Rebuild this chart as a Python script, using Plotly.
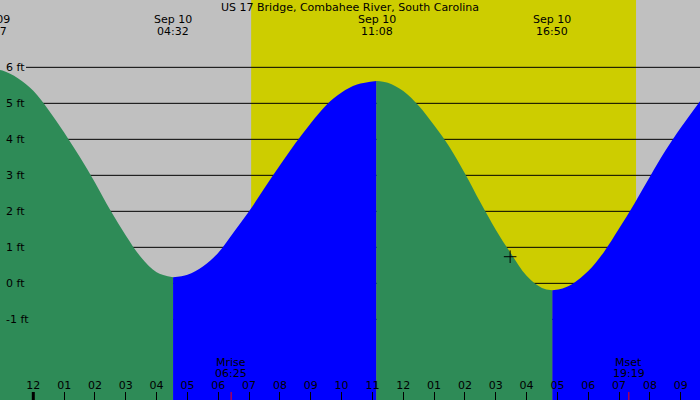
import pandas as pd
import plotly.graph_objects as go

station = "US 17 Bridge, Combahee River, South Carolina"

# tide level (ft), roughly every half hour plus the highs/lows
tide_times = [
    "2024-09-09 22:37", "2024-09-09 23:00", "2024-09-09 23:30",
    "2024-09-10 00:00", "2024-09-10 00:30", "2024-09-10 01:00", "2024-09-10 01:30",
    "2024-09-10 02:00", "2024-09-10 02:30", "2024-09-10 03:00", "2024-09-10 03:30",
    "2024-09-10 04:00", "2024-09-10 04:32", "2024-09-10 05:00", "2024-09-10 05:30",
    "2024-09-10 06:00", "2024-09-10 06:30", "2024-09-10 07:00", "2024-09-10 07:30",
    "2024-09-10 08:00", "2024-09-10 08:30", "2024-09-10 09:00", "2024-09-10 09:30",
    "2024-09-10 10:00", "2024-09-10 10:30", "2024-09-10 11:08", "2024-09-10 11:30",
    "2024-09-10 12:00", "2024-09-10 12:30", "2024-09-10 13:00", "2024-09-10 13:30",
    "2024-09-10 14:00", "2024-09-10 14:30", "2024-09-10 15:00", "2024-09-10 15:30",
    "2024-09-10 16:00", "2024-09-10 16:30", "2024-09-10 16:50", "2024-09-10 17:10",
    "2024-09-10 17:30", "2024-09-10 18:00", "2024-09-10 18:30", "2024-09-10 19:00",
    "2024-09-10 19:30", "2024-09-10 20:00", "2024-09-10 20:30", "2024-09-10 21:00",
    "2024-09-10 21:38",
]
tide_levels = [
    5.96, 5.91, 5.70,
    5.35, 4.81, 4.19, 3.52,
    2.80, 2.03, 1.33, 0.72,
    0.31, 0.17, 0.24, 0.47,
    0.85, 1.42, 2.00, 2.65,
    3.28, 3.89, 4.45, 4.95,
    5.30, 5.52, 5.62, 5.57,
    5.34, 4.93, 4.39, 3.79,
    3.05, 2.25, 1.49, 0.82,
    0.21, -0.13, -0.19, -0.14,
    -0.01, 0.34, 0.86, 1.52,
    2.22, 2.96, 3.68, 4.32,
    5.07,
]

# high / low tides labelled along the top
extreme_times = ["2024-09-09 22:37", "2024-09-10 04:32", "2024-09-10 11:08", "2024-09-10 16:50"]

sunrise = "2024-09-10 07:04"
sunset = "2024-09-10 19:33"

moon_events = ["Mrise", "Mset"]
moon_times = ["2024-09-10 06:25", "2024-09-10 19:19"]

now_time = ["2024-09-10 15:28"]
now_level = [0.74]

ft_ticks = [-1, 0, 1, 2, 3, 4, 5, 6]

x_start = pd.Timestamp("2024-09-09 22:55:12")
x_end = pd.Timestamp("2024-09-10 21:37:30")
y_min, y_max = -3.24, 7.87

GREEN = "#2E8B57"
BLUE = "#0000FF"
YELLOW = "#CDCD00"
GRAY = "#C0C0C0"
FONT = dict(family="DejaVu Sans", size=11, color="black")

times = pd.to_datetime(tide_times)

fig = go.Figure()

# split the curve at each high/low: falling water green, rising water blue
idx = [tide_times.index(t) for t in extreme_times] + [len(tide_times) - 1]
for a, b in zip(idx[:-1], idx[1:]):
    seg_x = times[a:b + 1]
    seg_y = tide_levels[a:b + 1]
    color = BLUE if seg_y[-1] > seg_y[0] else GREEN
    fig.add_trace(go.Scatter(
        x=[seg_x[0], seg_x[-1]], y=[y_min - 1, y_min - 1],
        mode="lines", line=dict(width=0), hoverinfo="skip"
    ))
    fig.add_trace(go.Scatter(
        x=seg_x, y=seg_y, mode="lines",
        line=dict(width=0, shape="spline", smoothing=1),
        fill="tonexty", fillcolor=color, hoverinfo="skip"
    ))

# current position marker
fig.add_trace(go.Scatter(
    x=pd.to_datetime(now_time), y=now_level, mode="markers",
    marker=dict(symbol="cross-thin", size=9, line=dict(width=1, color="black")),
    hoverinfo="skip"
))

# daylight
fig.add_shape(type="rect", xref="x", yref="paper", x0=sunrise, x1=sunset,
              y0=0, y1=1, fillcolor=YELLOW, line=dict(width=0), layer="below")

# height lines
for v in ft_ticks:
    fig.add_shape(type="line", xref="paper", yref="y", x0=26 / 700, x1=1,
                  y0=v, y1=v, line=dict(color="black", width=1), layer="between")

# midnight tick is drawn heavier
fig.add_shape(type="line", xref="x", yref="paper", x0="2024-09-10 00:00", x1="2024-09-10 00:00",
              y0=0, y1=8 / 400, line=dict(color="black", width=3))

# moon rise / set
for name, t in zip(moon_events, moon_times):
    ts = pd.Timestamp(t)
    fig.add_shape(type="line", xref="x", yref="paper", x0=ts, x1=ts,
                  y0=0, y1=8 / 400, line=dict(color="red", width=1))
    fig.add_annotation(x=ts, y=0, xref="x", yref="paper", text=name, showarrow=False,
                       xanchor="center", yanchor="middle", yshift=38, font=FONT)
    fig.add_annotation(x=ts, y=0, xref="x", yref="paper", text=ts.strftime("%H:%M"),
                       showarrow=False, xanchor="center", yanchor="middle", yshift=26.5,
                       font=FONT)

# high / low labels (paper coords so the one left of the range still shows)
span = (x_end - x_start).total_seconds()
for t in extreme_times:
    ts = pd.Timestamp(t)
    px = (ts - x_start).total_seconds() / span
    fig.add_annotation(x=px, y=1, xref="paper", yref="paper", text=ts.strftime("%b %d"),
                       showarrow=False, xanchor="center", yanchor="middle", yshift=-19.3,
                       font=FONT)
    fig.add_annotation(x=px, y=1, xref="paper", yref="paper", text=ts.strftime("%H:%M"),
                       showarrow=False, xanchor="center", yanchor="middle", yshift=-31.5,
                       font=FONT)

fig.update_layout(
    width=700, height=400,
    margin=dict(l=0, r=0, t=0, b=0),
    plot_bgcolor=GRAY, paper_bgcolor=GRAY,
    showlegend=False,
    font=FONT,
    title=dict(text=station, x=0.5, xanchor="center", y=1 - 7.5 / 400, yanchor="middle",
               font=FONT),
    xaxis=dict(
        type="date", range=[x_start, x_end],
        tick0="2024-09-10 00:00", dtick=3600000, tickformat="%I",
        ticks="inside", ticklen=8, tickwidth=1, tickcolor="black",
        ticklabelposition="inside", showgrid=False, zeroline=False,
        showline=False, tickfont=FONT,
    ),
    yaxis=dict(
        range=[y_min, y_max], tickvals=ft_ticks,
        ticktext=[f"{v} ft" for v in ft_ticks],
        ticks="", ticklabelposition="inside", ticklabelstandoff=3,
        showgrid=False, zeroline=False, showline=False, tickfont=FONT,
    ),
)

fig.write_html("out.html", config={"displayModeBar": False},
               post_script="document.body.style.margin = '0';")
